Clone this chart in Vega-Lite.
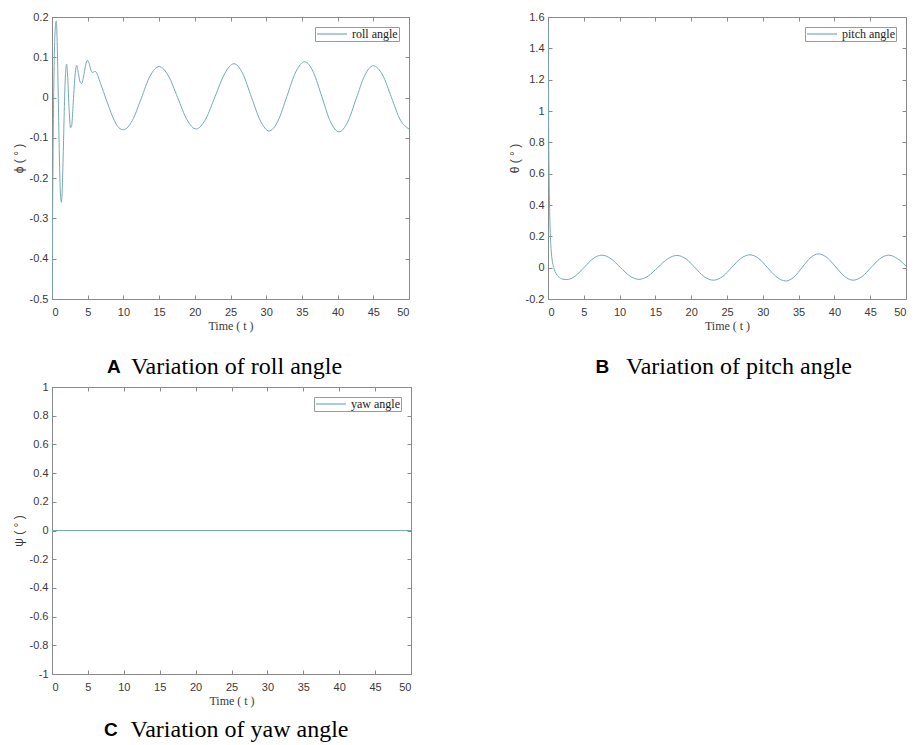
{
  "$schema": "https://vega.github.io/schema/vega-lite/v6.json",
  "background": "white",
  "padding": {"left": 11, "top": 10, "right": 5, "bottom": 0},
  "datasets": {
    "roll": [
      {"t": 0, "v": -0.5}, {"t": 0.08, "v": -0.3}, {"t": 0.18, "v": -0.08}, {"t": 0.3, "v": 0.08}, {"t": 0.45, "v": 0.17}, {"t": 0.6, "v": 0.19},
      {"t": 0.75, "v": 0.12}, {"t": 0.9, "v": -0.02}, {"t": 1.05, "v": -0.16}, {"t": 1.2, "v": -0.245}, {"t": 1.32, "v": -0.26}, {"t": 1.45, "v": -0.22},
      {"t": 1.6, "v": -0.12}, {"t": 1.75, "v": -0.01}, {"t": 1.9, "v": 0.06}, {"t": 2.05, "v": 0.083}, {"t": 2.2, "v": 0.05}, {"t": 2.4, "v": -0.03},
      {"t": 2.6, "v": -0.075}, {"t": 2.75, "v": -0.07}, {"t": 2.95, "v": -0.02}, {"t": 3.2, "v": 0.05}, {"t": 3.45, "v": 0.08}, {"t": 3.7, "v": 0.06},
      {"t": 3.95, "v": 0.038}, {"t": 4.15, "v": 0.035}, {"t": 4.4, "v": 0.05}, {"t": 4.7, "v": 0.08}, {"t": 4.95, "v": 0.092}, {"t": 5.2, "v": 0.085},
      {"t": 5.45, "v": 0.068}, {"t": 5.7, "v": 0.062}, {"t": 5.95, "v": 0.065}, {"t": 6.15, "v": 0.064}, {"t": 6.4, "v": 0.055}, {"t": 6.8, "v": 0.035},
      {"t": 7.2, "v": 0.015}, {"t": 7.6, "v": -0.005}, {"t": 8.0, "v": -0.025}, {"t": 8.5, "v": -0.048}, {"t": 9.0, "v": -0.066}, {"t": 9.5, "v": -0.077},
      {"t": 10.0, "v": -0.08}, {"t": 11.25, "v": -0.057}, {"t": 12.5, "v": -0.002}, {"t": 13.75, "v": 0.054}, {"t": 15.0, "v": 0.077},
      {"t": 16.3, "v": 0.054}, {"t": 17.6, "v": 0.0}, {"t": 18.9, "v": -0.055}, {"t": 20.2, "v": -0.078}, {"t": 21.5, "v": -0.054},
      {"t": 22.85, "v": 0.003}, {"t": 24.2, "v": 0.06}, {"t": 25.5, "v": 0.084}, {"t": 26.7, "v": 0.06}, {"t": 27.95, "v": 0.0},
      {"t": 29.2, "v": -0.058}, {"t": 30.4, "v": -0.083}, {"t": 31.65, "v": -0.058}, {"t": 32.9, "v": 0.003}, {"t": 34.15, "v": 0.064},
      {"t": 35.4, "v": 0.089}, {"t": 36.6, "v": 0.063}, {"t": 37.8, "v": 0.002}, {"t": 39.0, "v": -0.06}, {"t": 40.2, "v": -0.085},
      {"t": 41.4, "v": -0.061}, {"t": 42.6, "v": -0.003}, {"t": 43.8, "v": 0.055}, {"t": 45.0, "v": 0.079}, {"t": 46.3, "v": 0.056},
      {"t": 47.55, "v": 0.0}, {"t": 48.8, "v": -0.056}, {"t": 50.0, "v": -0.078}
    ],
    "pitch": [
      {"t": 0, "v": 1.57}, {"t": 0.04, "v": 1.25}, {"t": 0.08, "v": 0.95}, {"t": 0.12, "v": 0.72}, {"t": 0.17, "v": 0.52}, {"t": 0.23, "v": 0.36},
      {"t": 0.3, "v": 0.24}, {"t": 0.4, "v": 0.14}, {"t": 0.5, "v": 0.08}, {"t": 0.65, "v": 0.03}, {"t": 0.8, "v": 0.0}, {"t": 1.0, "v": -0.025},
      {"t": 1.3, "v": -0.05}, {"t": 1.7, "v": -0.066}, {"t": 2.1, "v": -0.074}, {"t": 2.6, "v": -0.076}, {"t": 3.825, "v": -0.053},
      {"t": 5.05, "v": 0.002}, {"t": 6.275, "v": 0.057}, {"t": 7.5, "v": 0.08}, {"t": 8.8, "v": 0.057}, {"t": 10.1, "v": 0.002},
      {"t": 11.4, "v": -0.052}, {"t": 12.7, "v": -0.075}, {"t": 14.0, "v": -0.053}, {"t": 15.35, "v": 0.002}, {"t": 16.7, "v": 0.056},
      {"t": 18.0, "v": 0.078}, {"t": 19.3, "v": 0.055}, {"t": 20.55, "v": -0.001}, {"t": 21.8, "v": -0.057}, {"t": 23.1, "v": -0.08},
      {"t": 24.4, "v": -0.056}, {"t": 25.65, "v": 0.001}, {"t": 26.9, "v": 0.058}, {"t": 28.2, "v": 0.082}, {"t": 29.45, "v": 0.058},
      {"t": 30.7, "v": -0.002}, {"t": 31.95, "v": -0.06}, {"t": 33.2, "v": -0.085}, {"t": 34.35, "v": -0.06}, {"t": 35.5, "v": 0.002},
      {"t": 36.65, "v": 0.063}, {"t": 37.8, "v": 0.088}, {"t": 39.0, "v": 0.063}, {"t": 40.2, "v": 0.004}, {"t": 41.4, "v": -0.055},
      {"t": 42.6, "v": -0.08}, {"t": 43.85, "v": -0.057}, {"t": 45.1, "v": 0.0}, {"t": 46.35, "v": 0.057}, {"t": 47.6, "v": 0.08},
      {"t": 48.85, "v": 0.056}, {"t": 50.0, "v": 0.01}
    ],
    "yaw": [{"t": 0, "v": 0}, {"t": 50, "v": 0}]
  },
  "config": {
    "view": {"stroke": "#8a8a8a", "strokeWidth": 1},
    "axis": {
      "grid": false, "domainColor": "#8a8a8a", "tickColor": "#8a8a8a", "tickSize": -4,
      "labelFont": "Liberation Sans", "labelFontSize": 11, "labelColor": "#3a3a3a",
      "titleFont": "Liberation Serif", "titleFontSize": 12, "titleFontWeight": "normal", "titleColor": "#3a3a3a"
    },
    "axisX": {"labelPadding": 11},
    "axisY": {"labelPadding": 8},
    "legend": {
      "orient": "top-right", "offset": 10, "padding": 1, "strokeColor": "#9a9a9a", "fillColor": "white",
      "labelFont": "Liberation Serif", "labelFontSize": 12, "labelColor": "#222222",
      "symbolType": "M-3,0H3", "symbolSize": 100, "symbolStrokeWidth": 1.2, "symbolOffset": 10, "labelOffset": 14
    }
  },
  "spacing": 0,
  "resolve": {"scale": {"color": "independent"}},
  "vconcat": [
    {
      "hconcat": [
        {
          "title": {"text": "A", "orient": "bottom", "font": "Liberation Sans", "fontWeight": "bold", "fontSize": 19, "color": "#000000", "anchor": "middle", "dx": -97, "dy": -22, "offset": 0},
          "resolve": {"scale": {"color": "independent"}},
          "vconcat": [
            {
              "width": 357, "height": 282,
              "title": {"text": "Variation of roll angle", "orient": "bottom", "font": "Liberation Serif", "fontSize": 24, "fontWeight": "normal", "color": "#000000", "anchor": "middle", "dx": 6, "offset": 24},
              "data": {"name": "roll"},
              "resolve": {"axis": {"x": "independent", "y": "independent"}},
              "layer": [
                {
                  "mark": {"type": "line", "interpolate": "monotone", "strokeWidth": 1, "clip": true},
                  "encoding": {
                    "x": {"field": "t", "type": "quantitative", "scale": {"domain": [0, 50], "nice": false}, "axis": {"values": [0, 5, 10, 15, 20, 25, 30, 35, 40, 45, 50], "title": "Time ( t )", "titlePadding": 3}},
                    "y": {"field": "v", "type": "quantitative", "scale": {"domain": [-0.5, 0.2], "nice": false, "zero": false}, "axis": {"values": [-0.5, -0.4, -0.3, -0.2, -0.1, 0, 0.1, 0.2], "title": "ϕ ( ° )", "titleFont": "Liberation Sans", "labelExpr": "datum.value < 0 ? '-' + format(-datum.value, '.1~f') : format(datum.value, '.1~f')"}},
                    "color": {"datum": "roll angle", "scale": {"range": ["#74aab5"]}, "legend": {"title": null}}
                  }
                },
                {
                  "mark": {"type": "line", "opacity": 0},
                  "encoding": {
                    "x": {"field": "t", "type": "quantitative", "axis": {"orient": "top", "labels": false, "title": null, "domain": false, "values": [0, 5, 10, 15, 20, 25, 30, 35, 40, 45, 50]}},
                    "y": {"field": "v", "type": "quantitative", "axis": {"orient": "right", "labels": false, "title": null, "domain": false, "values": [-0.5, -0.4, -0.3, -0.2, -0.1, 0, 0.1, 0.2]}}
                  }
                }
              ]
            }
          ]
        },
        {
          "title": {"text": "B", "orient": "bottom", "font": "Liberation Sans", "fontWeight": "bold", "fontSize": 19, "color": "#000000", "anchor": "middle", "dx": -105, "dy": -22, "offset": 0},
          "resolve": {"scale": {"color": "independent"}},
          "vconcat": [
            {
              "width": 358, "height": 282,
              "title": {"text": "Variation of pitch angle", "orient": "bottom", "font": "Liberation Serif", "fontSize": 24, "fontWeight": "normal", "color": "#000000", "anchor": "middle", "dx": 12, "offset": 24},
              "data": {"name": "pitch"},
              "resolve": {"axis": {"x": "independent", "y": "independent"}},
              "layer": [
                {
                  "mark": {"type": "line", "interpolate": "monotone", "strokeWidth": 1, "clip": true},
                  "encoding": {
                    "x": {"field": "t", "type": "quantitative", "scale": {"domain": [0, 50], "nice": false}, "axis": {"values": [0, 5, 10, 15, 20, 25, 30, 35, 40, 45, 50], "title": "Time ( t )", "titlePadding": 3}},
                    "y": {"field": "v", "type": "quantitative", "scale": {"domain": [-0.2, 1.6], "nice": false, "zero": false}, "axis": {"values": [-0.2, 0, 0.2, 0.4, 0.6, 0.8, 1, 1.2, 1.4, 1.6], "title": "θ ( ° )", "titleFont": "Liberation Sans", "labelExpr": "datum.value < 0 ? '-' + format(-datum.value, '.1~f') : format(datum.value, '.1~f')"}},
                    "color": {"datum": "pitch angle", "scale": {"range": ["#74aab5"]}, "legend": {"title": null}}
                  }
                },
                {
                  "mark": {"type": "line", "opacity": 0},
                  "encoding": {
                    "x": {"field": "t", "type": "quantitative", "axis": {"orient": "top", "labels": false, "title": null, "domain": false, "values": [0, 5, 10, 15, 20, 25, 30, 35, 40, 45, 50]}},
                    "y": {"field": "v", "type": "quantitative", "axis": {"orient": "right", "labels": false, "title": null, "domain": false, "values": [-0.2, 0, 0.2, 0.4, 0.6, 0.8, 1, 1.2, 1.4, 1.6]}}
                  }
                }
              ]
            }
          ]
        }
      ],
      "spacing": 97,
      "resolve": {"scale": {"color": "independent"}}
    },
    {
      "title": {"text": "C", "orient": "bottom", "font": "Liberation Sans", "fontWeight": "bold", "fontSize": 19, "color": "#000000", "anchor": "middle", "dx": -101, "dy": -22, "offset": 0},
      "resolve": {"scale": {"color": "independent"}},
      "vconcat": [
        {
          "width": 359, "height": 287,
          "title": {"text": "Variation of yaw angle", "orient": "bottom", "font": "Liberation Serif", "fontSize": 24, "fontWeight": "normal", "color": "#000000", "anchor": "middle", "dx": 8, "offset": 12},
          "data": {"name": "yaw"},
          "resolve": {"axis": {"x": "independent", "y": "independent"}},
          "layer": [
            {
              "mark": {"type": "line", "strokeWidth": 1, "clip": true},
              "encoding": {
                "x": {"field": "t", "type": "quantitative", "scale": {"domain": [0, 50], "nice": false}, "axis": {"values": [0, 5, 10, 15, 20, 25, 30, 35, 40, 45, 50], "title": "Time ( t )", "titlePadding": 3}},
                "y": {"field": "v", "type": "quantitative", "scale": {"domain": [-1, 1], "nice": false, "zero": false}, "axis": {"values": [-1, -0.8, -0.6, -0.4, -0.2, 0, 0.2, 0.4, 0.6, 0.8, 1], "title": "ψ ( ° )", "titleFont": "Liberation Sans", "labelExpr": "datum.value < 0 ? '-' + format(-datum.value, '.1~f') : format(datum.value, '.1~f')"}},
                "color": {"datum": "yaw angle", "scale": {"range": ["#74aab5"]}, "legend": {"title": null}}
              }
            },
            {
              "mark": {"type": "line", "opacity": 0},
              "encoding": {
                "x": {"field": "t", "type": "quantitative", "axis": {"orient": "top", "labels": false, "title": null, "domain": false, "values": [0, 5, 10, 15, 20, 25, 30, 35, 40, 45, 50]}},
                "y": {"field": "v", "type": "quantitative", "axis": {"orient": "right", "labels": false, "title": null, "domain": false, "values": [-1, -0.8, -0.6, -0.4, -0.2, 0, 0.2, 0.4, 0.6, 0.8, 1]}}
              }
            }
          ]
        }
      ]
    }
  ]
}
